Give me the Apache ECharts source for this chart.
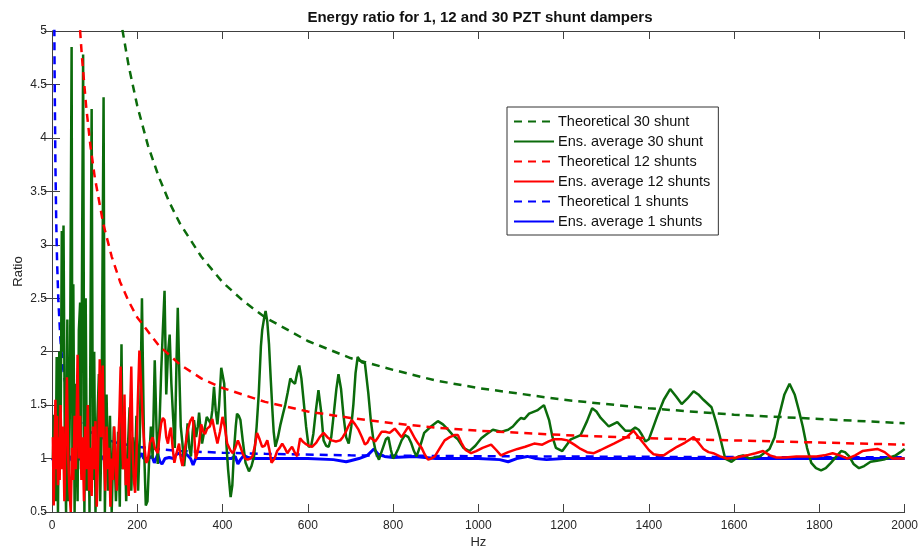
<!DOCTYPE html>
<html>
<head>
<meta charset="utf-8">
<script src="https://cdn.jsdelivr.net/npm/echarts@6/dist/echarts.min.js"></script>
<style>
  html, body { margin: 0; padding: 0; background: #fff; }
  #chart { width: 921px; height: 554px; }
</style>
</head>
<body>
<div id="chart"></div>
<script>
// Theoretical curves
const theo30Hz = [150, 160, 180, 200, 225, 250, 275, 300, 350, 400, 450, 500, 600, 700, 800, 900, 1000, 1200, 1400, 1600, 1800, 2000]
const theo30Val = [5.40, 5.13, 4.67, 4.30, 3.93, 3.64, 3.40, 3.20, 2.89, 2.65, 2.47, 2.32, 2.10, 1.94, 1.83, 1.73, 1.66, 1.55, 1.47, 1.41, 1.37, 1.33]

const theo12Hz = [60, 66, 70, 80, 90, 100, 120, 140, 160, 180, 200, 250, 300, 350, 400, 500, 600, 700, 800, 900, 1000, 1200, 1400, 1600, 1800, 2000]
const theo12Val = [5.40, 5.00, 4.77, 4.30, 3.93, 3.64, 3.20, 2.89, 2.65, 2.47, 2.32, 2.06, 1.88, 1.75, 1.66, 1.53, 1.44, 1.38, 1.33, 1.29, 1.26, 1.22, 1.19, 1.17, 1.15, 1.13]

const theo1Hz = [3, 4, 5, 6, 8, 10, 12, 15, 20, 25, 30, 40, 50, 60, 80, 100, 125, 150, 200, 250, 300, 400, 500, 700, 1000, 1500, 2000]
const theo1Val = [8.3, 6.5, 5.4, 4.67, 3.75, 3.2, 2.83, 2.47, 2.1, 1.88, 1.73, 1.55, 1.44, 1.37, 1.28, 1.22, 1.18, 1.15, 1.11, 1.09, 1.07, 1.055, 1.044, 1.03, 1.022, 1.015, 1.011]

// Ensemble average, 30 shunts
const ens30Hz = [2, 5, 8, 11, 14, 17, 20, 23, 25, 27, 30, 33, 36, 39, 42, 46, 48, 50, 53, 56, 60, 63, 66, 68, 73, 76, 79, 82, 85, 88, 93, 96, 99, 102, 105, 110, 113, 116, 121, 124, 128, 132, 136, 140, 145, 150, 155, 159, 163, 166, 170, 174, 178, 182, 186, 190, 194, 198, 202, 206, 211, 216, 220, 224, 228, 232, 236, 241, 245, 248, 252, 256, 260, 264, 268, 272, 276, 280, 284, 288, 292, 295, 298, 302, 306, 310, 314, 318, 322, 326, 330, 333, 338, 342, 345, 349, 352, 357, 363, 367, 372, 376, 380, 384, 388, 392, 397, 400, 404, 409, 413, 419, 423, 427, 431, 434, 438, 442, 448, 454, 462, 468, 474, 480, 485, 490, 493, 497, 501, 505, 509, 513, 517, 520, 524, 530, 536, 542, 547, 553, 559, 564, 570, 575, 580, 585, 590, 596, 602, 608, 613, 619, 625, 631, 637, 643, 649, 655, 661, 667, 672, 678, 684, 690, 696, 702, 707, 712, 717, 722, 727, 734, 738, 742, 748, 754, 760, 767, 772, 777, 783, 789, 795, 800, 806, 812, 820, 828, 836, 843, 849, 855, 864, 873, 889, 905, 917, 929, 940, 952, 965, 979, 993, 1007, 1020, 1034, 1053, 1070, 1081, 1092, 1100, 1108, 1119, 1138, 1154, 1166, 1174, 1182, 1197, 1217, 1240, 1255, 1267, 1277, 1287, 1306, 1326, 1345, 1358, 1368, 1376, 1384, 1392, 1400, 1419, 1435, 1450, 1464, 1477, 1490, 1505, 1516, 1528, 1547, 1557, 1567, 1579, 1594, 1610, 1621, 1637, 1660, 1683, 1695, 1703, 1718, 1730, 1742, 1752, 1761, 1771, 1781, 1792, 1804, 1815, 1827, 1840, 1851, 1860, 1870, 1880, 1893, 1905, 1920, 1935, 1951, 1965, 1979, 1990, 2000]
const ens30Val = [1.0, 1.41, 0.6, 1.95, 0.5, 2.0, 1.0, 3.13, 2.0, 3.18, 1.2, 0.5, 2.3, 0.6, 1.5, 4.85, 0.8, 2.63, 0.5, 1.7, 0.6, 2.2, 2.46, 0.9, 4.78, 0.5, 2.5, 0.7, 1.5, 0.5, 4.27, 0.8, 2.0, 0.5, 1.2, 1.79, 0.6, 1.2, 4.38, 0.5, 1.6, 0.7, 1.4, 0.5, 1.3, 0.6, 1.25, 0.55, 2.07, 0.9, 1.3, 0.6, 1.1, 1.48, 0.7, 1.2, 0.8, 1.4, 0.7, 1.2, 2.5, 1.1, 0.56, 0.6, 1.0, 1.3, 1.0, 1.92, 1.3, 0.95, 1.3, 1.8, 2.2, 2.57, 1.6, 1.98, 2.16, 1.7, 1.39, 1.1, 1.9, 2.41, 1.9, 1.3, 1.14, 0.93, 1.1, 1.33, 1.1, 1.02, 1.25, 1.36, 1.2, 1.3, 1.43, 1.25, 1.14, 1.25, 1.39, 1.38, 1.33, 1.45, 1.67, 1.45, 1.32, 1.5, 1.85, 1.86, 1.7, 1.14, 0.9, 0.64, 0.75, 1.08, 1.3, 1.42, 1.4, 1.36, 1.15, 0.96, 0.88, 0.93, 1.02, 1.3, 1.61, 2.05, 2.2, 2.3, 2.38, 2.28, 2.07, 1.75, 1.45, 1.25, 1.11, 1.2, 1.32, 1.42, 1.5, 1.62, 1.75, 1.72, 1.7, 1.8, 1.87, 1.75, 1.55, 1.3, 1.11, 1.12, 1.23, 1.45, 1.64, 1.45, 1.17, 1.12, 1.11, 1.2, 1.42, 1.65, 1.79, 1.65, 1.39, 1.2, 1.14, 1.3, 1.51, 1.8, 1.95, 1.92, 1.9, 1.89, 1.75, 1.61, 1.35, 1.17, 1.05, 0.99, 1.05, 1.11, 1.18, 1.2, 1.08, 1.0, 1.04, 1.09, 1.17, 1.22, 1.2, 1.14, 1.07, 1.02, 1.12, 1.24, 1.3, 1.35, 1.32, 1.27, 1.22, 1.18, 1.1, 1.07, 1.12, 1.19, 1.23, 1.27, 1.25, 1.27, 1.3, 1.35, 1.38, 1.37, 1.42, 1.45, 1.5, 1.36, 1.2, 1.10, 1.07, 1.18, 1.22, 1.35, 1.47, 1.44, 1.38, 1.3, 1.34, 1.26, 1.26, 1.29, 1.27, 1.22, 1.16, 1.18, 1.39, 1.55, 1.65, 1.58, 1.51, 1.56, 1.63, 1.6, 1.55, 1.48, 1.35, 1.2, 1.0, 0.97, 1.02, 1.03, 1.0, 1.02, 1.09, 1.2, 1.36, 1.6, 1.70, 1.6, 1.45, 1.3, 1.1, 0.96, 0.91, 0.89, 0.91, 0.96, 1.02, 1.07, 1.06, 1.02, 0.95, 0.91, 0.93, 0.97, 0.98, 0.99, 1.01, 1.03, 1.06, 1.09]

// Ensemble average, 12 shunts
const ens12Hz = [2, 4, 6, 8, 10, 12, 14, 16, 18, 20, 23, 26, 29, 32, 35, 38, 41, 44, 47, 50, 53, 56, 60, 63, 66, 69, 72, 75, 78, 81, 84, 87, 90, 93, 96, 99, 102, 105, 108, 112, 115, 119, 122, 125, 128, 131, 134, 137, 140, 143, 146, 149, 152, 155, 158, 161, 164, 167, 170, 173, 176, 180, 183, 186, 189, 192, 195, 198, 201, 205, 209, 213, 217, 221, 225, 230, 236, 241, 248, 252, 256, 260, 264, 268, 272, 276, 279, 283, 287, 292, 298, 302, 306, 312, 318, 324, 330, 334, 337, 341, 345, 350, 355, 359, 364, 370, 376, 382, 388, 394, 400, 405, 411, 418, 424, 430, 436, 441, 447, 453, 459, 465, 470, 476, 481, 487, 493, 499, 505, 510, 515, 522, 528, 534, 540, 546, 552, 557, 563, 569, 575, 582, 588, 594, 602, 610, 620, 628, 637, 646, 656, 666, 676, 682, 688, 695, 703, 711, 719, 727, 734, 740, 746, 752, 758, 765, 773, 782, 792, 798, 804, 812, 820, 828, 836, 843, 851, 859, 867, 874, 882, 890, 898, 910, 921, 933, 944, 952, 960, 970, 983, 995, 1010, 1030, 1042, 1053, 1070, 1092, 1110, 1131, 1150, 1165, 1177, 1195, 1209, 1225, 1240, 1255, 1271, 1287, 1302, 1318, 1333, 1348, 1364, 1376, 1388, 1400, 1411, 1425, 1435, 1450, 1466, 1485, 1505, 1516, 1528, 1540, 1551, 1567, 1583, 1605, 1630, 1650, 1668, 1684, 1699, 1720, 1746, 1770, 1793, 1812, 1831, 1848, 1866, 1884, 1901, 1918, 1936, 1953, 1971, 1985, 2000]
const ens12Val = [1.2, 0.56, 1.1, 1.55, 0.9, 1.4, 0.75, 1.2, 0.8, 1.5, 0.9, 1.3, 0.6, 1.2, 1.76, 1.0, 0.7, 0.5, 1.1, 0.8, 1.4, 0.9, 1.97, 1.0, 1.4, 0.8, 1.2, 0.6, 1.3, 0.9, 1.5, 0.7, 1.1, 0.65, 1.3, 0.9, 1.35, 0.55, 1.0, 1.93, 1.2, 1.87, 1.0, 0.7, 1.3, 0.9, 1.1, 0.55, 1.0, 0.8, 1.3, 1.0, 0.7, 1.1, 1.4, 1.86, 1.2, 0.9, 1.6, 0.75, 1.0, 0.65, 1.4, 1.86, 1.1, 0.8, 0.68, 1.0, 1.5, 2.01, 1.7, 1.33, 1.1, 0.96, 0.99, 1.15, 1.2, 1.1, 1.05, 1.2, 1.33, 1.38, 1.36, 1.2, 1.14, 1.25, 1.29, 1.1, 0.96, 1.05, 1.14, 1.0, 0.93, 1.1, 1.26, 1.35, 1.39, 1.2, 1.0, 1.05, 1.14, 1.32, 1.25, 1.23, 1.28, 1.3, 1.37, 1.25, 1.14, 1.25, 1.39, 1.3, 1.14, 1.08, 1.05, 1.1, 1.17, 1.12, 1.05, 1.0, 0.99, 1.0, 1.02, 1.12, 1.24, 1.18, 1.11, 1.12, 1.17, 1.08, 0.96, 1.0, 1.07, 1.1, 1.14, 1.1, 1.05, 1.08, 1.11, 1.06, 1.02, 1.19, 1.16, 1.14, 1.12, 1.11, 1.15, 1.2, 1.24, 1.2, 1.17, 1.16, 1.17, 1.2, 1.24, 1.3, 1.36, 1.32, 1.27, 1.2, 1.13, 1.15, 1.2, 1.18, 1.16, 1.2, 1.25, 1.25, 1.24, 1.26, 1.28, 1.24, 1.2, 1.25, 1.3, 1.25, 1.19, 1.14, 1.1, 1.04, 0.99, 1.0, 1.02, 1.1, 1.17, 1.2, 1.22, 1.22, 1.15, 1.08, 1.05, 1.07, 1.1, 1.13, 1.08, 1.03, 1.06, 1.09, 1.11, 1.14, 1.13, 1.16, 1.18, 1.18, 1.17, 1.13, 1.09, 1.06, 1.05, 1.08, 1.11, 1.14, 1.17, 1.2, 1.26, 1.2, 1.14, 1.08, 1.04, 1.03, 1.03, 1.07, 1.11, 1.15, 1.2, 1.15, 1.09, 1.06, 1.05, 1.02, 1.0, 1.01, 1.03, 1.05, 1.07, 1.03, 1.01, 1.01, 1.02, 1.02, 1.02, 1.03, 1.05, 1.03, 1.0, 1.03, 1.07, 1.08, 1.09, 1.06, 1.0, 1.0, 1.0]

// Ensemble average, 1 shunt
const ens1Hz = [0, 5, 10, 15, 20, 25, 30, 35, 40, 45, 50, 55, 60, 65, 70, 75, 80, 85, 90, 95, 100, 105, 110, 115, 120, 125, 130, 135, 140, 145, 150, 155, 160, 165, 170, 175, 180, 185, 189, 193, 198, 203, 210, 215, 225, 235, 240, 248, 253, 258, 265, 275, 285, 292, 298, 305, 312, 318, 325, 331, 337, 345, 360, 380, 400, 420, 430, 436, 442, 450, 460, 475, 500, 550, 600, 660, 690, 700, 720, 740, 755, 765, 780, 800, 850, 900, 950, 1000, 1050, 1070, 1090, 1115, 1135, 1160, 1200, 1300, 1400, 1500, 1600, 1700, 1800, 1900, 2000]
const ens1Val = [1.0, 0.98, 1.03, 0.99, 1.01, 0.98, 1.02, 1.0, 0.98, 1.02, 1.0, 0.98, 1.01, 0.99, 1.03, 0.99, 1.02, 0.98, 1.0, 1.01, 0.98, 1.02, 1.0, 0.99, 1.02, 1.0, 0.98, 1.01, 0.99, 1.02, 1.0, 1.0, 0.99, 1.01, 0.99, 1.0, 1.0, 1.01, 1.0, 1.08, 0.95, 1.0, 1.05, 1.0, 1.0, 1.02, 0.96, 1.04, 0.97, 0.95, 1.0, 1.01, 1.0, 1.04, 1.05, 1.02, 1.05, 1.03, 1.0, 0.94, 1.0, 1.0, 1.0, 1.0, 1.0, 1.0, 1.02, 0.95, 0.99, 1.03, 1.01, 1.0, 1.0, 1.0, 1.0, 0.99, 0.97, 0.98, 1.0, 1.03, 1.09, 1.04, 1.02, 1.01, 1.02, 1.0, 1.0, 1.0, 0.99, 0.97, 1.0, 1.02, 1.0, 0.99, 1.0, 1.0, 1.0, 1.0, 1.0, 1.0, 1.0, 1.0, 1.0]

const GREEN = '#0b6b0b'
const RED = '#ff0000'
const BLUE = '#0000ff'
const FONT = '"Liberation Sans", Arial, sans-serif'

function pairs(xs, ys) {
    return xs.map(function (x, i) { return [x, ys[i]] })
}

function lineSeries(name, xs, ys, color, dashed, width) {
    return {
        name: name,
        type: 'line',
        xAxisIndex: 0,
        yAxisIndex: 0,
        data: pairs(xs, ys),
        symbol: 'none',
        clip: true,
        animation: false,
        lineStyle: {
            color: color,
            width: width,
            type: dashed ? [8, 6] : 'solid'
        },
        itemStyle: { color: color }
    }
}

function axisLine() { return { lineStyle: { color: '#404040', width: 1 } } }
function axisTick() { return { show: true, inside: true, length: 8, lineStyle: { color: '#404040' } } }

var myChart = echarts.init(document.getElementById('chart'), null, { renderer: 'canvas' })

var option = {
    animation: false,
    backgroundColor: '#fff',
    title: {
        text: 'Energy ratio for 1, 12 and 30 PZT shunt dampers',
        left: 480,
        textAlign: 'center',
        top: 10,
        padding: 0,
        textStyle: { fontFamily: FONT, fontSize: 15, fontWeight: 'bold', color: '#111' }
    },
    legend: {
        orient: 'vertical',
        left: 507,
        top: 107,
        itemWidth: 40,
        itemHeight: 14,
        itemGap: 5,
        padding: [7, 8, 6, 6],
        borderColor: '#333',
        borderWidth: 1,
        backgroundColor: '#fff',
        itemStyle: { opacity: 0 },
        textStyle: { fontFamily: FONT, fontSize: 14.5, color: '#111', padding: [0, 0, 0, -1] },
        data: ['Theoretical 30 shunt', 'Ens. average 30 shunt', 'Theoretical 12 shunts',
            'Ens. average 12 shunts', 'Theoretical 1 shunts', 'Ens. average 1 shunts']
    },
    grid: { left: 52, top: 31, width: 857, height: 485, containLabel: false },
    xAxis: [{
        type: 'value',
        min: 0, max: 2000, interval: 200,
        position: 'bottom',
        name: 'Hz',
        nameLocation: 'middle',
        nameGap: 24,
        nameMoveOverlap: false,
        nameTextStyle: { fontFamily: FONT, fontSize: 13, color: '#262626' },
        axisLine: axisLine(),
        axisTick: axisTick(),
        axisLabel: { fontFamily: FONT, fontSize: 12, color: '#262626', margin: 8, formatter: function (v) { return String(v) } },
        splitLine: { show: false }
    }, {
        type: 'value',
        min: 0, max: 2000, interval: 200,
        position: 'top',
        axisLine: axisLine(),
        axisTick: axisTick(),
        axisLabel: { show: false },
        splitLine: { show: false }
    }],
    yAxis: [{
        type: 'value',
        min: 0.5, max: 5, interval: 0.5,
        position: 'left',
        name: 'Ratio',
        nameLocation: 'middle',
        nameGap: 27,
        nameMoveOverlap: false,
        nameTextStyle: { fontFamily: FONT, fontSize: 13, color: '#262626' },
        axisLine: axisLine(),
        axisTick: axisTick(),
        axisLabel: { fontFamily: FONT, fontSize: 12, color: '#262626', margin: 5 },
        splitLine: { show: false }
    }, {
        type: 'value',
        min: 0.5, max: 5, interval: 0.5,
        position: 'right',
        axisLine: axisLine(),
        axisTick: axisTick(),
        axisLabel: { show: false },
        splitLine: { show: false }
    }],
    series: [
        lineSeries('Ens. average 1 shunts', ens1Hz, ens1Val, BLUE, false, 3),
        lineSeries('Theoretical 1 shunts', theo1Hz, theo1Val, BLUE, true, 2.5),
        lineSeries('Ens. average 30 shunt', ens30Hz, ens30Val, GREEN, false, 2.5),
        lineSeries('Ens. average 12 shunts', ens12Hz, ens12Val, RED, false, 2.5),
        lineSeries('Theoretical 30 shunt', theo30Hz, theo30Val, GREEN, true, 2.5),
        lineSeries('Theoretical 12 shunts', theo12Hz, theo12Val, RED, true, 2.5)
    ]
}

myChart.setOption(option)
</script>
</body>
</html>
